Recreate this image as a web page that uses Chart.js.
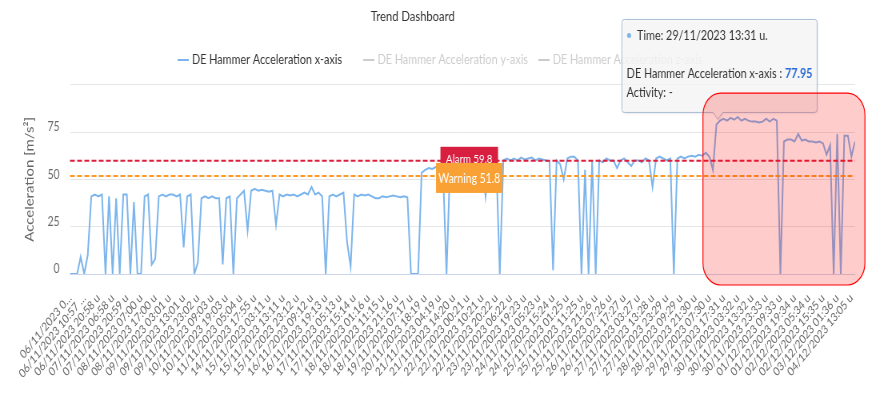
<!DOCTYPE html>
<html>
<head>
<meta charset="utf-8">
<title>Trend Dashboard</title>
<script src="https://cdn.jsdelivr.net/npm/chart.js@4.4.1/dist/chart.umd.min.js"></script>
<style>
    html, body { margin: 0; padding: 0; background: #fff; overflow: hidden; }
    /* the reference screenshot is squeezed horizontally, so draw wide and squeeze */
    #wrap { width: 1095px; height: 398px; transform: scaleX(0.8); transform-origin: 0 0; }
</style>
</head>
<body>
<div id="wrap"><canvas id="trendChart"></canvas></div>
<script>
/**
 * Trend Dashboard - DE Hammer Acceleration
 */

const chartTitle = 'Trend Dashboard';
const seriesNames = [
    'DE Hammer Acceleration x-axis',
    'DE Hammer Acceleration y-axis',
    'DE Hammer Acceleration z-axis'
];
const yAxisTitle = 'Acceleration [m/s²]';

const xTickLabels = [
    '06/11/2023 0…', '06/11/2023 10:57 …', '06/11/2023 20:58 u', '07/11/2023 06:58 u',
    '07/11/2023 20:59 u', '08/11/2023 07:00 u', '08/11/2023 17:00 u', '09/11/2023 03:01 u',
    '09/11/2023 13:01 u', '09/11/2023 23:02 u', '10/11/2023 09:03 u', '10/11/2023 19:03 u',
    '11/11/2023 05:04 u', '14/11/2023 17:55 u', '15/11/2023 03:11 u', '15/11/2023 13:11 u',
    '15/11/2023 23:12 u', '16/11/2023 09:12 u', '16/11/2023 19:13 u', '17/11/2023 05:13 u',
    '17/11/2023 15:14 u', '18/11/2023 01:16 u', '18/11/2023 11:15 u', '18/11/2023 21:16 u',
    '19/11/2023 07:17 u', '20/11/2023 18:19 u', '21/11/2023 04:19 u', '21/11/2023 14:20 u',
    '22/11/2023 00:21 u', '22/11/2023 10:21 u', '22/11/2023 20:22 u', '23/11/2023 06:22 u',
    '23/11/2023 19:23 u', '24/11/2023 05:23 u', '24/11/2023 15:24 u', '25/11/2023 01:25 u',
    '25/11/2023 11:25 u', '25/11/2023 21:26 u', '26/11/2023 07:26 u', '26/11/2023 17:27 u',
    '27/11/2023 03:27 u', '27/11/2023 13:28 u', '27/11/2023 23:29 u', '28/11/2023 09:29 u',
    '28/11/2023 21:30 u', '29/11/2023 07:30 u', '29/11/2023 17:31 u', '30/11/2023 03:32 u',
    '30/11/2023 13:32 u', '30/11/2023 23:33 u', '01/12/2023 09:33 u', '01/12/2023 19:34 u',
    '02/12/2023 05:34 u', '02/12/2023 15:35 u', '03/12/2023 01:36 u', '04/12/2023 13:05 u'
];

// 4 samples between two tick labels
const samplesPerTick = 4;
const xAxisValues = [
    0, 0, 0, 9, 0, 10, 41, 42, 41, 42, 0, 41, 0, 40, 0, 42, 42, 0, 38, 0,
    0, 41, 42, 5, 8, 41, 42, 41, 42, 42, 41, 42, 14, 41, 42, 0, 6, 40, 41, 40,
    41, 40, 40, 5, 40, 41, 0, 40, 42, 44, 23, 44, 45, 44, 44.5, 44, 43.5, 44, 26, 42,
    41, 42, 41.5, 42, 41, 42, 43, 42, 46, 42, 43, 41, 0, 41, 42, 41, 42, 43, 17, 4,
    42, 41, 42, 41.5, 42, 41, 40, 40, 41, 40.5, 41, 41.5, 41, 40.5, 41, 40.5, 0, 0, 0, 53.5,
    55, 56, 55.5, 56.5, 57, 56, 0, 57, 58, 58, 59, 59, 59.5, 60, 60, 59, 60, 41, 60, 61,
    60, 0, 60, 61, 60, 61, 60, 61.5, 60.5, 61, 61.5, 60, 61, 60.5, 60, 59.5, 2, 60, 58, 50,
    61, 62, 62, 60, 0, 55, 0, 60, 0, 60, 59, 61, 60, 60, 56, 60, 61, 59, 57, 60,
    60, 59, 61, 60, 46, 61, 62, 61, 60, 61, 0, 61, 62, 61, 62, 62.5, 62, 63, 62.5, 64,
    62, 55, 79, 81, 82, 81, 82.5, 81.5, 83, 81, 82, 81, 80.5, 80.5, 80, 80.5, 82, 80.5, 82, 81,
    0, 70, 71, 71, 70, 74, 70.5, 71, 70, 70, 69.5, 70, 69, 63, 68, 0, 74, 0, 73, 73,
    62, 70
];

const yMax = 100;
const yStep = 25;
const alarmLevel = 59.8;
const warningLevel = 51.8;
const thresholdLabelAt = 28.1;

// highlighted region (data units)
const highlightRange = { xMin: 44.55, xMax: 55.95, yMin: -5.8, yMax: 95.6 };

// tooltip shown in the screenshot
const tooltipX = 45.6;
const tooltipValue = 77.95;
const tooltipTime = '29/11/2023 13:31 u.';
const tooltipActivity = '-';

const FONT = 'Lato, "Open Sans", sans-serif';
const SERIES_COLOR = '#7cb5ec';

/**
 * Dibuja un rectángulo redondeado
 */
function roundRect(ctx, x, y, w, h, r) {
    ctx.beginPath();
    ctx.moveTo(x + r, y);
    ctx.arcTo(x + w, y, x + w, y + h, r);
    ctx.arcTo(x + w, y + h, x, y + h, r);
    ctx.arcTo(x, y + h, x, y, r);
    ctx.arcTo(x, y, x + w, y, r);
    ctx.closePath();
}

function drawThreshold(ctx, area, py, color) {
    ctx.save();
    ctx.strokeStyle = color;
    ctx.lineWidth = 2;
    ctx.setLineDash([6, 3]);
    ctx.beginPath();
    ctx.moveTo(area.left, py);
    ctx.lineTo(area.right, py);
    ctx.stroke();
    ctx.restore();
}

function drawTag(ctx, cx, cy, w, h, color, text, size) {
    ctx.save();
    ctx.fillStyle = color;
    ctx.fillRect(cx - w / 2, cy - h / 2, w, h);
    ctx.fillStyle = '#fff';
    ctx.font = size + 'px ' + FONT;
    ctx.textAlign = 'center';
    ctx.textBaseline = 'middle';
    ctx.fillText(text, cx, cy + 1);
    ctx.restore();
}

const overlayPlugin = {
    id: 'overlay',
    afterDatasetsDraw(chart) {
        const { ctx, chartArea, scales } = chart;
        drawThreshold(ctx, chartArea, scales.y.getPixelForValue(alarmLevel), '#dc1e3c');
        drawThreshold(ctx, chartArea, scales.y.getPixelForValue(warningLevel), '#fb9a25');
    },
    afterDraw(chart) {
        const { ctx, scales } = chart;
        const x = scales.x, y = scales.y;

        // threshold tags
        const tagX = x.getPixelForValue(thresholdLabelAt);
        drawTag(ctx, tagX, y.getPixelForValue(alarmLevel) - 3, 72, 22, '#d81f3f', 'Alarm ' + alarmLevel, 12);
        drawTag(ctx, tagX, y.getPixelForValue(warningLevel) + 2, 83, 30, '#f9a134', 'Warning ' + warningLevel, 13);

        // title
        ctx.save();
        ctx.fillStyle = '#333';
        ctx.font = '14px ' + FONT;
        ctx.textAlign = 'center';
        ctx.textBaseline = 'middle';
        ctx.fillText(chartTitle, 516, 16);
        ctx.restore();

        // legend (only the first series is visible)
        const legendX = [222, 454, 673];
        ctx.save();
        ctx.font = '13.5px ' + FONT;
        ctx.textBaseline = 'middle';
        seriesNames.forEach((name, idx) => {
            const color = idx === 0 ? SERIES_COLOR : '#cccccc';
            ctx.strokeStyle = color;
            ctx.lineWidth = 2;
            ctx.beginPath();
            ctx.moveTo(legendX[idx], 60);
            ctx.lineTo(legendX[idx] + 14, 60);
            ctx.stroke();
            ctx.fillStyle = idx === 0 ? '#333' : '#cccccc';
            ctx.fillText(name, legendX[idx] + 18, 60);
        });
        ctx.restore();

        // tooltip
        const px = x.getPixelForValue(tooltipX);
        const py = y.getPixelForValue(tooltipValue);
        const tipY = py - 7;
        const boxBottom = tipY - 7;
        const boxH = 93, boxW = 244;
        const boxL = px - 120, boxT = boxBottom - boxH;
        ctx.save();
        ctx.shadowColor = 'rgba(0,0,0,0.12)';
        ctx.shadowOffsetX = 1;
        ctx.shadowOffsetY = 1;
        ctx.shadowBlur = 3;
        ctx.fillStyle = 'rgba(248,248,248,0.85)';
        ctx.strokeStyle = '#a9bdd6';
        ctx.lineWidth = 1;
        ctx.beginPath();
        ctx.moveTo(boxL + 3, boxT);
        ctx.lineTo(boxL + boxW - 3, boxT);
        ctx.arcTo(boxL + boxW, boxT, boxL + boxW, boxT + 3, 3);
        ctx.lineTo(boxL + boxW, boxBottom - 3);
        ctx.arcTo(boxL + boxW, boxBottom, boxL + boxW - 3, boxBottom, 3);
        ctx.lineTo(px + 6, boxBottom);
        ctx.lineTo(px, tipY);
        ctx.lineTo(px - 6, boxBottom);
        ctx.lineTo(boxL + 3, boxBottom);
        ctx.arcTo(boxL, boxBottom, boxL, boxBottom - 3, 3);
        ctx.lineTo(boxL, boxT + 3);
        ctx.arcTo(boxL, boxT, boxL + 3, boxT, 3);
        ctx.closePath();
        ctx.fill();
        ctx.shadowColor = 'transparent';
        ctx.stroke();

        ctx.textBaseline = 'middle';
        ctx.fillStyle = SERIES_COLOR;
        ctx.beginPath();
        ctx.arc(boxL + 9, boxT + 16, 2.5, 0, Math.PI * 2);
        ctx.fill();
        ctx.fillStyle = '#333';
        ctx.font = '13.5px ' + FONT;
        ctx.fillText('Time: ' + tooltipTime, boxL + 19, boxT + 16);
        const serieText = seriesNames[0] + ' : ';
        ctx.fillText(serieText, boxL + 6, boxT + 54);
        const w = ctx.measureText(serieText).width;
        ctx.font = 'bold 13.5px ' + FONT;
        ctx.fillStyle = '#2b6cd8';
        ctx.fillText(tooltipValue.toFixed(2), boxL + 6 + w, boxT + 54);
        ctx.font = '13.5px ' + FONT;
        ctx.fillStyle = '#333';
        ctx.fillText('Activity: ' + tooltipActivity, boxL + 6, boxT + 73);
        ctx.restore();

        // highlighted region
        const hx0 = x.getPixelForValue(highlightRange.xMin);
        const hx1 = x.getPixelForValue(highlightRange.xMax);
        const hy0 = y.getPixelForValue(highlightRange.yMax);
        const hy1 = y.getPixelForValue(highlightRange.yMin);
        ctx.save();
        roundRect(ctx, hx0, hy0, hx1 - hx0, hy1 - hy0, 22);
        ctx.fillStyle = 'rgba(255,0,0,0.2)';
        ctx.fill();
        ctx.strokeStyle = '#f00';
        ctx.lineWidth = 1.2;
        ctx.stroke();
        ctx.restore();
    }
};

document.addEventListener('DOMContentLoaded', function() {
    const points = xAxisValues.map((v, i) => ({ x: i / samplesPerTick, y: v }));
    const lastX = (xAxisValues.length - 1) / samplesPerTick;

    new Chart(document.getElementById('trendChart'), {
        type: 'line',
        data: {
            datasets: [{
                label: seriesNames[0],
                data: points,
                borderColor: SERIES_COLOR,
                borderWidth: 2,
                pointRadius: 0,
                tension: 0,
                fill: false
            }]
        },
        options: {
            responsive: true,
            maintainAspectRatio: false,
            animation: false,
            events: [],
            layout: { padding: { top: 84.7, right: 26.25, bottom: 0, left: 0 } },
            plugins: {
                legend: { display: false },
                title: { display: false },
                tooltip: { enabled: false }
            },
            scales: {
                x: {
                    type: 'linear',
                    min: 0,
                    max: lastX,
                    afterBuildTicks: (scale) => {
                        scale.ticks = xTickLabels.map((_, i) => ({ value: i }));
                    },
                    afterFit: (scale) => { scale.height = 124; },
                    grid: { display: false },
                    border: { color: '#ccd6eb', width: 1 },
                    ticks: {
                        autoSkip: false,
                        minRotation: 45,
                        maxRotation: 45,
                        padding: 9,
                        color: '#666',
                        font: { family: FONT, size: 12 },
                        callback: (v) => xTickLabels[v] ?? ''
                    }
                },
                y: {
                    min: 0,
                    max: yMax,
                    afterFit: (scale) => { scale.width = 87.5; },
                    grid: { color: '#e6e6e6', drawTicks: false },
                    border: { display: false },
                    ticks: {
                        stepSize: yStep,
                        padding: 13,
                        labelOffset: -5,
                        color: '#666',
                        font: { family: FONT, size: 13 },
                        callback: (v) => v === yMax ? '' : v
                    },
                    title: {
                        display: true,
                        text: yAxisTitle,
                        color: '#666',
                        font: { family: FONT, size: 15 },
                        padding: { top: 28.5, bottom: 0 }
                    }
                }
            }
        },
        plugins: [overlayPlugin]
    });
});
</script>
</body>
</html>
